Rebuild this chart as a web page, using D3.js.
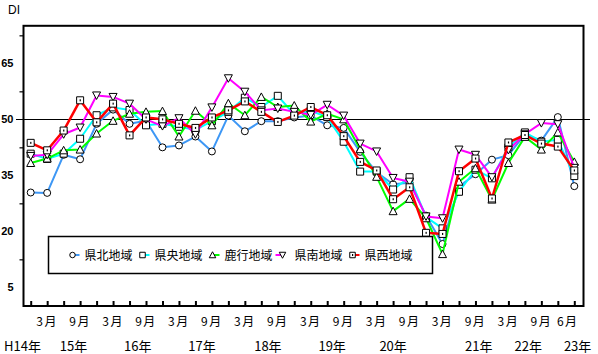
<!DOCTYPE html>
<html><head><meta charset="utf-8">
<script src="https://cdn.jsdelivr.net/npm/d3@7"></script>
<style>
body{margin:0;background:#fff}
svg{display:block}
text{font-family:"Noto Sans CJK JP","Noto Sans",sans-serif;fill:#000}
</style>
</head><body>
<svg id="c" width="598" height="354"></svg>
<script>
// ---- data ----
const categories = ["H14.12","H15.3","H15.6","H15.9","H15.12","H16.3","H16.6","H16.9","H16.12",
  "H17.3","H17.6","H17.9","H17.12","H18.3","H18.6","H18.9","H18.12","H19.3","H19.6","H19.9","H19.12",
  "H20.3","H20.6","H20.9","H20.12","H21.3","H21.6","H21.9","H21.12","H22.3","H22.6","H22.9","H22.12","H23.6"];
const kenhoku = [30.4,30.3,40.5,39.3,48.8,52.6,48.8,49.6,42.5,43.0,45.4,41.4,51.0,46.8,49.5,49.5,50.5,51.0,48.4,47.7,41.3,35.8,32.6,33.0,24.2,16.6,32.0,35.3,39.2,40.4,46.0,44.3,50.6,32.1];
const kenou   = [40.8,39.4,40.8,44.8,51.1,53.2,52.5,48.4,48.8,48.0,47.2,49.5,52.0,55.8,53.3,56.3,51.3,52.3,50.6,44.0,36.0,36.0,31.2,34.5,23.8,20.8,30.6,36.5,34.2,42.5,46.5,44.0,44.5,34.8];
const rokko   = [38.3,39.5,41.7,41.9,46.2,49.6,51.5,52.0,52.2,45.4,52.3,48.4,54.3,51.1,56.0,53.3,53.7,49.4,51.5,50.0,42.0,34.6,25.4,28.7,23.5,13.9,33.3,36.9,28.5,38.3,45.3,41.9,46.5,38.6];
const kennan  = [40.2,40.5,46.0,47.8,56.4,56.0,54.2,50.0,48.2,50.3,46.0,53.2,61.0,57.4,52.4,52.9,52.0,51.2,53.9,51.0,43.5,41.4,34.3,33.3,24.0,23.5,41.9,40.5,34.5,41.8,46.0,49.0,48.7,37.0];
const kensei  = [43.7,41.7,47.0,55.1,49.2,54.2,45.7,50.5,50.0,48.8,47.7,50.5,52.4,54.8,52.0,49.3,51.0,53.3,51.1,45.5,38.6,36.3,28.6,31.8,19.6,19.3,36.1,39.5,28.8,43.8,45.8,43.5,42.7,36.3];
const seriesNames = ["県北地域","県央地域","鹿行地域","県南地域","県西地域"];
const yLabelValues = [5,20,35,50,65];
const yTickValues = [12.5,27.5,42.5,57.5,72.5];
const monthTickLabels = ["3月","9月","3月","9月","3月","9月","3月","9月","3月","9月","3月","9月","3月","9月","3月","9月","6月"];
const monthTickAt = [1,3,5,7,9,11,13,15,17,19,21,23,25,27,29,31,32.6];
const yearTickLabels = ["H14年","15年","16年","17年","18年","19年","20年","21年","22年","23年"];
const yearTickAt = [-0.5,2.6,6.5,10.4,14.4,18.3,22.0,27.2,30.2,33.2];
const refValue = 50;

// ---- styles ----
const seriesData = [kenhoku, kenou, rokko, kennan, kensei];
const colors = ["#3d97f5","#00ffff","#00ff00","#ff00ff","#ff0000"];
const markers = ["circle","square","tri","tridown","squaredot"];
const lineW = [2,2,2,2,2.5];

const svg = d3.select("#c");
const x = d3.scaleLinear().domain([0, categories.length - 1]).range([30.7, 574.3]);
const y = d3.scaleLinear().domain([0, 75]).range([306, 26]);

function markerPath(type, s) {
  const h = s / 2;
  switch (type) {
    case "circle": return d3.symbol(d3.symbolCircle, Math.PI * h * h)();
    case "square":
    case "squaredot": return `M${-h},${-h}H${h}V${h}H${-h}Z`;
    case "tri": return `M0,${-h - 0.5}L${h + 0.5},${h}L${-h - 0.5},${h}Z`;
    case "tridown": return `M0,${h + 0.5}L${h + 0.5},${-h}L${-h - 0.5},${-h}Z`;
  }
}

// reference line at 50
svg.append("line")
  .attr("x1", 16).attr("x2", 590)
  .attr("y1", Math.round(y(refValue)) + 0.5).attr("y2", Math.round(y(refValue)) + 0.5)
  .attr("stroke", "#000").attr("stroke-width", 1);

// series
const line = d3.line().x((d, i) => x(i)).y(d => y(d));
seriesData.forEach((data, si) => {
  const g = svg.append("g");
  g.append("path").datum(data)
    .attr("d", line).attr("fill", "none")
    .attr("stroke", colors[si]).attr("stroke-width", lineW[si])
    .attr("stroke-linejoin", "round");
  const m = g.selectAll("g.m").data(data).join("g")
    .attr("transform", (d, i) => `translate(${x(i)},${y(d)})`);
  m.append("path").attr("d", markerPath(markers[si], 7))
    .attr("fill", "#fff").attr("stroke", "#000").attr("stroke-width", 1);
  if (markers[si] === "squaredot") {
    m.append("rect").attr("x", -0.5).attr("y", -1).attr("width", 1.2).attr("height", 2).attr("fill", "#000");
  }
});

// frame
svg.append("rect")
  .attr("x", 23.5).attr("y", 25.8).attr("width", 560).attr("height", 280.2)
  .attr("fill", "none").attr("stroke", "#000").attr("stroke-width", 2);

// y axis ticks
const yAxis = d3.axisLeft(y).tickValues(yTickValues).tickSize(4).tickFormat("");
const ya = svg.append("g").attr("transform", "translate(23.5,0)").call(yAxis);
ya.select(".domain").remove();
ya.selectAll("line").attr("stroke", "#000").attr("stroke-width", 1.2);

// y labels
svg.selectAll("text.yl").data(yLabelValues).join("text")
  .attr("x", 13.5).attr("y", d => y(d) + 4)
  .attr("text-anchor", "end")
  .style("font-family", "'Liberation Sans',Arial,sans-serif")
  .style("font-weight", "bold").style("font-size", "11px")
  .text(d => d);

svg.append("text").attr("x", 8).attr("y", 14)
  .style("font-family", "'Liberation Sans',Arial,sans-serif")
  .style("font-size", "12px").text("DI");

// x ticks (pointing up)
const xAxis = d3.axisTop(x).tickValues(d3.range(categories.length)).tickSize(5).tickFormat("");
const xa = svg.append("g").attr("transform", "translate(0,306)").call(xAxis);
xa.select(".domain").remove();
xa.selectAll("line").attr("stroke", "#000").attr("stroke-width", 2);

// month labels
svg.selectAll("text.ml").data(monthTickLabels).join("text")
  .attr("x", (d, i) => x(monthTickAt[i])).attr("y", 326)
  .attr("text-anchor", "middle").style("font-size", "12px")
  .style("letter-spacing", "1.5px")
  .text(d => d);

// year labels
svg.selectAll("text.yr").data(yearTickLabels).join("text")
  .attr("x", (d, i) => x(yearTickAt[i])).attr("y", 351)
  .attr("text-anchor", "middle").style("font-size", "13px")
  .text(d => d);

// legend
const lg = svg.append("g");
lg.append("rect").attr("x", 48.5).attr("y", 236.5).attr("width", 384).attr("height", 37)
  .attr("fill", "#fff").attr("stroke", "#000").attr("stroke-width", 1.5);
seriesNames.forEach((name, i) => {
  const cx = 72.5 + i * 70;
  const cy = 255;
  const left = markers[i] === "tridown";
  lg.append("line")
    .attr("x1", left ? cx - 7 : cx + 1).attr("x2", left ? cx - 1 : cx + 7)
    .attr("y1", cy).attr("y2", cy)
    .attr("stroke", colors[i]).attr("stroke-width", 2);
  lg.append("path").attr("transform", `translate(${cx},${cy})`)
    .attr("d", markerPath(markers[i], 5.5))
    .attr("fill", "#fff").attr("stroke", "#000").attr("stroke-width", 1);
  if (markers[i] === "squaredot") {
    lg.append("rect").attr("x", cx - 0.5).attr("y", cy - 1).attr("width", 1.2).attr("height", 2).attr("fill", "#000");
  }
  lg.append("text").attr("x", cx + 12).attr("y", cy + 4.5)
    .style("font-size", "12px").text(name);
});
</script>
</body></html>
